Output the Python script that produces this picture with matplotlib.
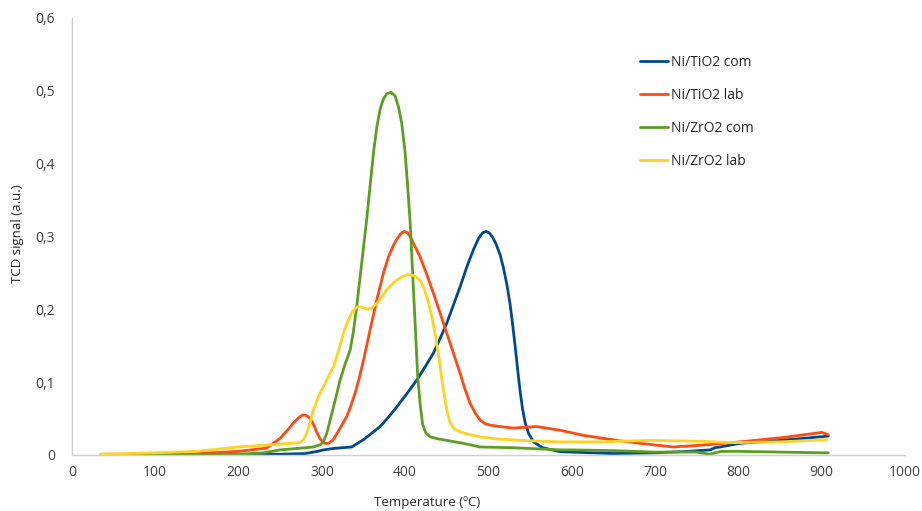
import matplotlib
matplotlib.use("Agg")
import matplotlib.pyplot as plt
from matplotlib.ticker import FuncFormatter, MultipleLocator

plt.rcParams['font.family'] = ['Open Sans', 'DejaVu Sans']

# TPR profiles, temperature (ºC) vs TCD signal (a.u.)
ti_com_t = [35, 100, 150, 200, 250, 280, 295, 302, 314, 336, 350, 360, 370, 380, 390,
            402, 414, 424, 434, 442, 450, 458, 466, 474, 482, 488, 493, 497, 501, 505,
            509, 514, 518, 522, 526, 529, 532, 535, 538, 541, 544, 548, 554, 565, 586,
            600, 650, 700, 740, 766, 772, 778, 802, 850, 880, 908]
ti_com_s = [0.0, 0.0005, 0.001, 0.001, 0.001, 0.002, 0.005, 0.007, 0.009, 0.011, 0.021, 0.030,
            0.039, 0.052, 0.066, 0.084, 0.103, 0.121, 0.140, 0.160, 0.181, 0.206, 0.231,
            0.258, 0.282, 0.297, 0.305, 0.307, 0.305, 0.299, 0.290, 0.275, 0.257, 0.235,
            0.207, 0.180, 0.150, 0.118, 0.088, 0.063, 0.045, 0.030, 0.018, 0.010, 0.0045,
            0.004, 0.002, 0.003, 0.005, 0.007, 0.010, 0.011, 0.016, 0.020, 0.023, 0.026]

ti_lab_t = [35, 100, 150, 200, 234, 250, 258, 266, 272, 277, 282, 286, 290, 294, 298, 303,
            308, 313, 318, 324, 330, 335, 340, 345, 350, 358, 366, 374, 380, 386, 391,
            395, 399, 403, 407, 412, 418, 426, 434, 442, 450, 458, 466, 472, 478, 484,
            490, 496, 502, 514, 530, 558, 586, 614, 654, 682, 722, 762, 802, 854, 900, 908]
ti_lab_s = [0.0, 0.001, 0.002, 0.005, 0.0095, 0.023, 0.033, 0.044, 0.051, 0.055, 0.054, 0.050,
            0.042, 0.031, 0.022, 0.016, 0.016, 0.020, 0.029, 0.041, 0.053, 0.068, 0.085,
            0.106, 0.130, 0.172, 0.213, 0.250, 0.272, 0.288, 0.298, 0.304, 0.307, 0.305,
            0.298, 0.286, 0.272, 0.248, 0.222, 0.195, 0.167, 0.140, 0.112, 0.090, 0.071,
            0.058, 0.048, 0.043, 0.041, 0.039, 0.037, 0.039, 0.034, 0.027, 0.020, 0.016,
            0.011, 0.014, 0.018, 0.024, 0.031, 0.028]

zr_com_t = [35, 100, 150, 200, 230, 250, 270, 290, 298, 302, 306, 310, 316, 322, 328, 334,
            338, 342, 346, 350, 354, 358, 362, 366, 370, 374, 378, 383, 388, 392, 396,
            400, 403, 406, 409, 412, 415, 418, 421, 425, 430, 440, 450, 470, 490, 530,
            586, 600, 650, 700, 750, 766, 772, 780, 800, 850, 900, 908]
zr_com_s = [0.001, 0.001, 0.001, 0.001, 0.003, 0.007, 0.009, 0.011, 0.014, 0.018, 0.030, 0.048,
            0.075, 0.103, 0.125, 0.144, 0.170, 0.205, 0.245, 0.285, 0.325, 0.370, 0.415,
            0.450, 0.475, 0.489, 0.496, 0.498, 0.493, 0.478, 0.455, 0.415, 0.370, 0.320,
            0.250, 0.180, 0.110, 0.070, 0.042, 0.030, 0.025, 0.022, 0.020, 0.016, 0.011,
            0.010, 0.007, 0.007, 0.006, 0.004, 0.004, 0.001, 0.003, 0.005, 0.005, 0.004,
            0.003, 0.003]

zr_lab_t = [35, 100, 150, 200, 250, 274, 278, 282, 286, 290, 296, 302, 308, 314, 320, 326,
            331, 336, 340, 344, 350, 356, 361, 366, 372, 378, 384, 390, 397, 404, 411,
            418, 423, 428, 433, 437, 441, 444, 447, 450, 453, 456, 460, 466, 474, 490,
            510, 540, 586, 634, 694, 750, 794, 850, 906]
zr_lab_s = [0.001, 0.003, 0.005, 0.011, 0.015, 0.017, 0.021, 0.030, 0.045, 0.062, 0.080, 0.094,
            0.108, 0.121, 0.143, 0.167, 0.183, 0.195, 0.201, 0.204, 0.202, 0.200, 0.203,
            0.208, 0.217, 0.227, 0.234, 0.240, 0.245, 0.248, 0.246, 0.240, 0.228, 0.210,
            0.185, 0.160, 0.130, 0.105, 0.082, 0.062, 0.048, 0.040, 0.035, 0.032, 0.029,
            0.025, 0.022, 0.020, 0.018, 0.018, 0.020, 0.019, 0.017, 0.018, 0.021]

labels = ['Ni/TiO2 com', 'Ni/TiO2 lab', 'Ni/ZrO2 com', 'Ni/ZrO2 lab']
colours = ['#004a8c', '#ff4a14', '#5b9e22', '#ffd320']

fig = plt.figure(figsize=(9.22, 5.11), dpi=100)
ax = fig.add_axes([0.078, 0.1096, 0.9035, 0.8552])

series = [(ti_com_t, ti_com_s), (ti_lab_t, ti_lab_s), (zr_com_t, zr_com_s), (zr_lab_t, zr_lab_s)]
for (t, s), lab, c in zip(series, labels, colours):
    ax.plot(t, s, color=c, lw=2.0, label=lab, solid_joinstyle='round', solid_capstyle='round')

ax.set_xlim(0, 1000)
ax.set_ylim(0, 0.6)
ax.xaxis.set_major_locator(MultipleLocator(100))
ax.yaxis.set_major_locator(MultipleLocator(0.1))
ax.yaxis.set_major_formatter(FuncFormatter(lambda v, p: ('%g' % round(v, 2)).replace('.', ',')))

for side in ['top', 'right']:
    ax.spines[side].set_visible(False)
for side in ['left', 'bottom']:
    ax.spines[side].set_color('#d0d0d0')
    ax.spines[side].set_linewidth(1.0)

ax.tick_params(axis='both', length=0, labelsize=10, colors='#404040')
ax.tick_params(axis='y', pad=12)
ax.tick_params(axis='x', pad=7)

ax.set_xlabel('Temperature (ºC)', fontsize=9.5, color='#262626')
ax.set_ylabel('TCD signal (a.u.)', fontsize=9.5, color='#262626')
ax.xaxis.set_label_coords(0.427, -0.093)
ax.yaxis.set_label_coords(-0.058, 0.506)

leg = ax.legend(loc='upper left', bbox_to_anchor=(0.682, 0.915), frameon=False,
                fontsize=10, handlelength=2.0, handletextpad=0.2, labelspacing=1.3,
                borderpad=0, borderaxespad=0)
for txt in leg.get_texts():
    txt.set_color('#262626')

fig.savefig('out.png', dpi=100)
